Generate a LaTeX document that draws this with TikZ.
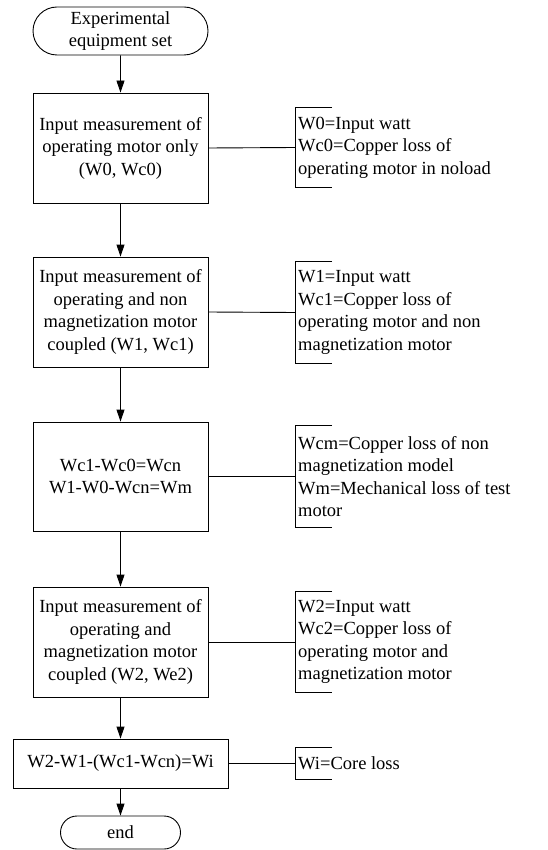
\documentclass[tikz,border=0pt]{standalone}
\usepackage{fontspec}
\setmainfont{LiberationSerif}[Extension=.ttf, UprightFont=*-Regular, BoldFont=*-Bold]
\usetikzlibrary{shapes.misc,arrows.meta}
\begin{document}
\begin{tikzpicture}[x=1pt,y=-1pt,
  every node/.style={font=\rmfamily\fontsize{18.5}{22.5}\selectfont},
  box/.style={draw, line width=0.9pt, align=center, inner sep=0pt, minimum width=175pt, minimum height=110pt},
  term/.style={draw, line width=0.9pt, rounded rectangle, align=center, inner sep=0pt},
  anno/.style={anchor=west, align=left, inner xsep=3pt, inner ysep=0pt},
  flow/.style={draw, line width=0.9pt, -{Triangle[length=12pt,width=8pt]}},
  link/.style={draw, line width=0.9pt},
  brk/.style={draw, line width=0.9pt}]
\useasboundingbox (0,0) rectangle (547,850);

\node[term, minimum width=175pt, minimum height=48pt] (start) at (120.5,31) {Experimental\\equipment set};
\node[box] (b1) at (120.5,148) {Input measurement of\\operating motor only\\(W0, Wc0)};
\node[box] (b2) at (120.5,312) {Input measurement of\\operating and non\\magnetization motor\\coupled (W1, Wc1)};
\node[box, minimum height=109pt] (b3) at (120.5,476.5) {Wc1-Wc0=Wcn\\W1-W0-Wcn=Wm};
\node[box] (b4) at (120.5,642) {Input measurement of\\operating and\\magnetization motor\\coupled (W2, We2)};
\node[box, minimum width=215pt, minimum height=49pt] (b5) at (120.5,763.5) {W2-W1-(Wc1-Wcn)=Wi};
\node[term, minimum width=120pt, minimum height=33pt] (end) at (120.5,832.5) {end};

\node[anno, minimum height=79pt] (a1) at (295,147.5) {W0=Input watt\\Wc0=Copper loss of\\operating motor in noload};
\node[anno, minimum height=101pt] (a2) at (295,312.5) {W1=Input watt\\Wc1=Copper loss of\\operating motor and non\\magnetization motor};
\node[anno, minimum height=101pt] (a3) at (295,476.5) {Wcm=Copper loss of non\\magnetization model\\Wm=Mechanical loss of test\\motor};
\node[anno, minimum height=100pt] (a4) at (295,642) {W2=Input watt\\Wc2=Copper loss of\\operating motor and\\magnetization motor};
\node[anno, minimum height=31pt] (a5) at (295,763.5) {Wi=Core loss};

\path[flow] (start) -- (b1);
\path[flow] (b1) -- (b2);
\path[flow] (b2) -- (b3);
\path[flow] (b3) -- (b4);
\path[flow] (b4) -- (b5);
\path[flow] (b5) -- (end);

\foreach \b/\a in {b1/a1,b2/a2,b3/a3,b4/a4,b5/a5}{
  \path[link] (\b.east) -- (\a.west);
  \path[brk] ([xshift=37pt]\a.north west) -- (\a.north west) -- (\a.south west) -- ([xshift=37pt]\a.south west);
}
\end{tikzpicture}
\end{document}
